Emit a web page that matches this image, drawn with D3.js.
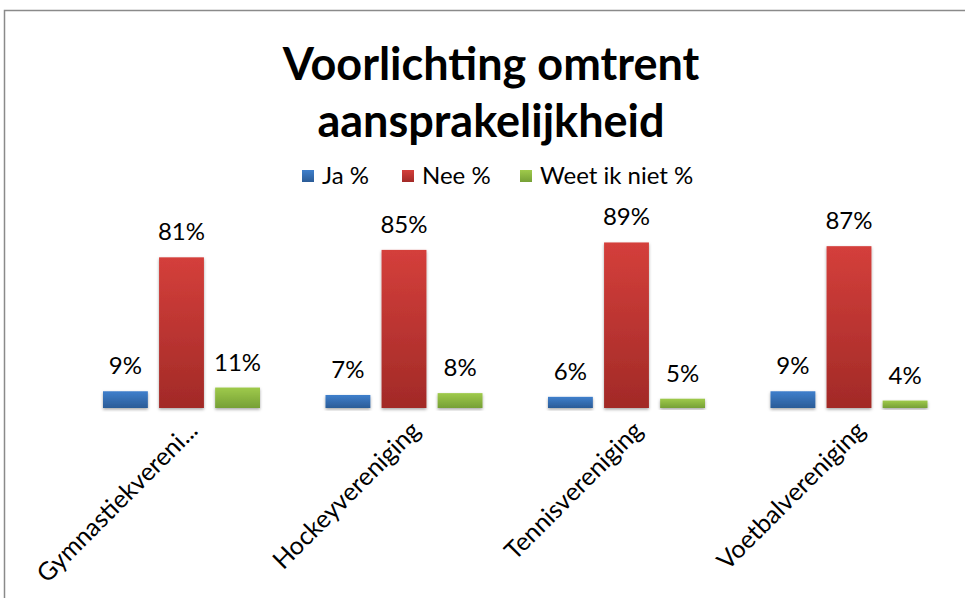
<!DOCTYPE html>
<html>
<head>
<meta charset="utf-8">
<script src="https://cdn.jsdelivr.net/npm/d3@7"></script>
<style>
  body { margin: 0; background: #fff; }
  svg { display: block; font-family: Lato, "Open Sans", sans-serif; }
</style>
</head>
<body>
<svg width="965" height="598"></svg>
<script>
// data
const categories = ["Gymnastiekvereni...", "Hockeyvereniging", "Tennisvereniging", "Voetbalvereniging"]
const series = ["Ja %", "Nee %", "Weet ik niet %"]
const ja = [9, 7, 6, 9]
const nee = [81, 85, 89, 87]
const weetNiet = [11, 8, 5, 4]
const titleLines = ["Voorlichting omtrent", "aansprakelijkheid"]

const values = [ja, nee, weetNiet]
const colors = [
  {top: "#3f7fcc", bottom: "#2b5c97"},
  {top: "#d43f3b", bottom: "#a22a27"},
  {top: "#9fca4b", bottom: "#76a036"}
]

const svg = d3.select("svg")

// chart border
svg.append("rect")
  .attr("x", 4.5).attr("y", 10.5)
  .attr("width", 1000).attr("height", 700)
  .attr("style", "fill: none; stroke: #8a8a8a; stroke-width: 1.5")

const defs = svg.append("defs")
colors.forEach(function(c, i) {
  const g = defs.append("linearGradient").attr("id", "grad" + i)
    .attr("x1", 0).attr("y1", 0).attr("x2", 0).attr("y2", 1)
  g.append("stop").attr("offset", "0%").attr("stop-color", c.top)
  g.append("stop").attr("offset", "100%").attr("stop-color", c.bottom)
})
const f = defs.append("filter").attr("id", "shadow")
  .attr("x", "-20%").attr("y", "-20%").attr("width", "140%").attr("height", "140%")
f.append("feDropShadow").attr("dx", 0).attr("dy", 1.5).attr("stdDeviation", 1.5)
  .attr("flood-color", "#000").attr("flood-opacity", 0.35)

// title
svg.selectAll(".title").data(titleLines).enter().append("text")
  .attr("class", "title")
  .attr("x", 491)
  .attr("y", function(d, i) { return 80 + i * 57 })
  .attr("text-anchor", "middle")
  .attr("font-size", "45px").attr("font-weight", "bold")
  .attr("fill", "#000")
  .text(function(d) { return d })

// scales
const x0 = d3.scaleBand().domain(categories).range([70, 960])
const x1 = d3.scaleBand().domain(d3.range(series.length)).range([33, 190]).paddingInner(0.2)
const y = d3.scaleLinear().domain([0, 100]).range([408, 222])

// bars
categories.forEach(function(cat, ci) {
  const g = svg.append("g").attr("transform", "translate(" + x0(cat) + ",0)")
  series.forEach(function(s, si) {
    const v = values[si][ci]
    g.append("rect")
      .attr("x", x1(si)).attr("width", x1.bandwidth())
      .attr("y", y(v)).attr("height", y(0) - y(v))
      .attr("fill", "url(#grad" + si + ")")
      .attr("filter", "url(#shadow)")
    g.append("text")
      .attr("x", x1(si) + x1.bandwidth() / 2)
      .attr("y", y(v) - 17)
      .attr("text-anchor", "middle")
      .attr("font-size", "24px")
      .text(v + "%")
  })
})

// axis
const axis = svg.append("g").attr("transform", "translate(0,408)")
  .call(d3.axisBottom(x0).tickSize(0).tickPadding(0))
axis.select(".domain").attr("stroke", "#8c8c8c").attr("stroke-width", 1.5)
  .attr("filter", "url(#shadow)")
axis.selectAll(".tick text")
  .attr("font-family", "Lato, 'Open Sans', sans-serif")
  .attr("font-size", "25px").attr("fill", "#000")
  .attr("text-anchor", "end")
  .attr("dy", 0)
  .attr("transform", "translate(18,24) rotate(-45)")

// legend
const legendX = [302, 402, 520]
series.forEach(function(s, i) {
  svg.append("rect")
    .attr("x", legendX[i]).attr("y", 170).attr("width", 12).attr("height", 12)
    .attr("fill", "url(#grad" + i + ")")
  svg.append("text")
    .attr("x", legendX[i] + 20).attr("y", 184)
    .attr("font-size", "24px")
    .text(s)
})
</script>
</body>
</html>
